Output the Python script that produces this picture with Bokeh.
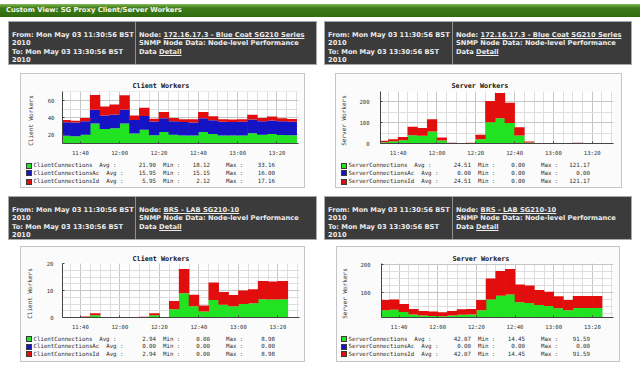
import pandas as pd
from bokeh.plotting import figure
from bokeh.models import (Div, Spacer, FixedTicker, DatetimeTickFormatter,
                          Range1d, ColumnDataSource)
from bokeh.layouts import column, row
from bokeh.embed import file_html
from bokeh.resources import INLINE

# ---------------- data ----------------
DAY = "2010-05-03"
SLOTS = ["11:30", "11:35", "11:40", "11:45", "11:50", "11:55", "12:00", "12:05",
         "12:10", "12:15", "12:20", "12:25", "12:30", "12:35", "12:40", "12:45",
         "12:50", "12:55", "13:00", "13:05", "13:10", "13:15", "13:20", "13:25"]
X_START = "11:30:56"
X_END = "13:30:56"
X_TICKS = ["11:40", "12:00", "12:20", "12:40", "13:00", "13:20"]
X_MINOR = ["11:35", "11:40", "11:45", "11:50", "11:55", "12:00", "12:05", "12:10",
           "12:15", "12:20", "12:25", "12:30", "12:35", "12:40", "12:45", "12:50",
           "12:55", "13:00", "13:05", "13:10", "13:15", "13:20", "13:25", "13:30"]
NAN = float("nan")

CLIENT_NAMES = ["ClientConnections", "ClientConnectionsAc", "ClientConnectionsId"]
SERVER_NAMES = ["ServerConnections", "ServerConnectionsAc", "ServerConnectionsId"]

# top-left: Blue Coat SG210 Series, client workers
TL_CONN = [18.6, 18.12, 19.8, 33.16, 26.5, 27.6, 33.0, 21.2, 25.8, 19.3, 23.2, 19.8,
           19.0, 19.0, 23.2, 20.8, 19.0, 18.9, 19.0, 21.6, 19.8, 20.6, 19.6, 19.2]
TL_AC = [16.0, 16.0, 16.0, 16.0, 16.0, 16.0, 16.0, 16.0, 15.9, 16.0, 16.0, 16.0,
         15.9, 15.15, 16.0, 16.0, 16.0, 16.0, 16.0, 16.0, 15.9, 16.0, 16.0, 16.0]
TL_ID = [2.6, 2.12, 3.8, 17.16, 10.5, 11.6, 17.0, 5.2, 9.9, 3.3, 7.2, 3.8,
         3.1, 3.85, 7.2, 4.8, 3.0, 2.9, 3.0, 5.6, 3.9, 4.6, 3.6, 3.2]
TL_STATS = [("21.90", "18.12", "33.16"), ("15.95", "15.15", "16.00"), ("5.95", "2.12", "17.16")]

# top-right: Blue Coat SG210 Series, server workers
TR_CONN = [6.5, 10.5, 15.5, 40.0, 37.0, 58.0, 14.5, 2.0, 1.5, 2.0, 21.0, 102.0,
           121.17, 98.0, 39.0, 5.0, 0.0, 0.5, 1.5, 0.5, 1.8, 0.4, 0.0, 0.0]
TR_AC = [0.0, 0.0, 0.0, 0.0, 0.0, 0.0, 0.0, 0.0, 0.0, 0.0, 0.0, 0.0,
         0.0, 0.0, 0.0, 0.0, 0.0, 0.0, 0.0, 0.0, 0.0, 0.0, 0.0, 0.0]
TR_ID = [6.5, 10.5, 15.5, 40.0, 37.0, 58.0, 14.5, 2.0, 1.5, 2.0, 21.0, 102.0,
         121.17, 98.0, 39.0, 5.0, 0.0, 0.5, 1.5, 0.5, 1.8, 0.4, 0.0, 0.0]
TR_STATS = [("24.51", "0.00", "121.17"), ("0.00", "0.00", "0.00"), ("24.51", "0.00", "121.17")]

# bottom-left: BRS - LAB SG210-10, client workers
BL_CONN = [0.0, 0.0, 0.2, 0.8, 0.0, 0.0, 0.0, 0.0, 0.15, 0.8, 0.0, 3.05,
           8.98, 4.2, 2.2, 6.5, 4.7, 4.15, 5.0, 5.25, 6.75, 6.65, 6.75, NAN]
BL_AC = [0.0, 0.0, 0.0, 0.0, 0.0, 0.0, 0.0, 0.0, 0.0, 0.0, 0.0, 0.0,
         0.0, 0.0, 0.0, 0.0, 0.0, 0.0, 0.0, 0.0, 0.0, 0.0, 0.0, NAN]
BL_ID = [0.0, 0.0, 0.2, 0.8, 0.0, 0.0, 0.0, 0.0, 0.15, 0.8, 0.0, 3.05,
         8.98, 4.2, 2.2, 6.5, 4.7, 4.15, 5.0, 5.25, 6.75, 6.65, 6.75, NAN]
BL_STATS = [("2.94", "0.00", "8.98"), ("0.00", "0.00", "0.00"), ("2.94", "0.00", "8.98")]

# bottom-right: BRS - LAB SG210-10, server workers
BR_CONN = [36.0, 37.0, 29.0, 20.0, 16.5, 15.5, 14.45, 16.5, 19.5, 20.0, 36.0, 74.5,
           88.0, 91.59, 64.0, 62.0, 54.0, 51.0, 43.0, 36.0, 43.5, 43.5, 43.5, NAN]
BR_AC = [0.0, 0.0, 0.0, 0.0, 0.0, 0.0, 0.0, 0.0, 0.0, 0.0, 0.0, 0.0,
         0.0, 0.0, 0.0, 0.0, 0.0, 0.0, 0.0, 0.0, 0.0, 0.0, 0.0, NAN]
BR_ID = [36.0, 37.0, 29.0, 20.0, 16.5, 15.5, 14.45, 16.5, 19.5, 20.0, 36.0, 74.5,
         88.0, 91.59, 64.0, 62.0, 54.0, 51.0, 43.0, 36.0, 43.5, 43.5, 43.5, NAN]
BR_STATS = [("42.07", "14.45", "91.59"), ("0.00", "0.00", "0.00"), ("42.07", "14.45", "91.59")]

PAGE_TITLE = "Custom View: SG Proxy Client/Server Workers"
FROM_LINE = "From: Mon May 03 11:30:56 BST"
TO_LINE = "To: Mon May 03 13:30:56 BST"
YEAR = "2010"
NODE_TOP = "172.16.17.3 - Blue Coat SG210 Series"
NODE_BOTTOM = "BRS - LAB SG210-10"

# ---------------- style ----------------
MONO = "DejaVu Sans Mono"
SANS = "DejaVu Sans"
GREEN, BLUE, RED = "#22e322", "#1414c4", "#e20e0e"
AXIS_C = "#454545"
TEXT_C = "#2a2a2a"
BOX_BG = "#fbfbfb"
YLAB_W = 20


def ms(t):
    return pd.Timestamp(f"{DAY} {t}").value // 10**6


def chart(title, conn, ac, idd, y0, y1, yticks, yminor,
          width, left, right, top, fh, title_off, title_stand, ytick_stand):
    bottom = 9
    height = top + fh + bottom
    p = figure(width=width, height=height, x_axis_type="datetime",
               x_range=Range1d(ms(X_START), ms(X_END)), y_range=Range1d(y0, y1),
               output_backend="svg", toolbar_location=None,
               min_border_left=left, min_border_right=right,
               min_border_top=top, min_border_bottom=bottom,
               background_fill_color="white", border_fill_color=BOX_BG,
               outline_line_color=None)
    p.title.text = title
    p.title.align = "left"
    p.title.offset = title_off
    p.title.standoff = title_stand
    p.title.text_font = MONO
    p.title.text_font_size = "6.75px"
    p.title.text_font_style = "bold"
    p.title.text_color = "#111111"

    src = ColumnDataSource(dict(mid=[ms(s) + 150000 for s in SLOTS],
                                conn=conn, ac=ac, idd=idd))
    p.vbar_stack(["conn", "ac", "idd"], x="mid", width=318000, source=src,
                 fill_color=[GREEN, BLUE, RED], line_color=None)

    p.xaxis.ticker = FixedTicker(ticks=[ms(t) for t in X_TICKS],
                                 minor_ticks=[ms(t) for t in X_MINOR])
    p.xaxis.formatter = DatetimeTickFormatter(minutes="%H:%M", hourmin="%H:%M",
                                              hours="%H:%M", minsec="%H:%M")
    p.yaxis.ticker = FixedTicker(ticks=yticks, minor_ticks=yminor)
    for ax in (p.xaxis[0], p.yaxis[0]):
        ax.axis_line_color = AXIS_C
        ax.major_tick_in = 2
        ax.major_tick_out = 0
        ax.major_tick_line_color = AXIS_C
        ax.minor_tick_line_color = None
        ax.major_label_text_font = MONO
        ax.major_label_text_font_size = "5.6px"
        ax.major_label_text_color = "#333333"
    p.xaxis.major_label_standoff = 2
    p.yaxis.major_label_standoff = ytick_stand
    for g in (p.xgrid[0], p.ygrid[0]):
        g.grid_line_color = "#c6c6c6"
        g.minor_grid_line_color = "#dedede"
    return p


def ylabel(text, height, cx, cy):
    bw, bh = 100, 7
    html = (f'<div style="position:relative;width:{YLAB_W}px;height:{height}px;'
            f'background:{BOX_BG};overflow:visible">'
            f'<div style="position:absolute;left:{cx - bw / 2:.1f}px;top:{cy - bh / 2:.1f}px;'
            f'width:{bw}px;height:{bh}px;line-height:{bh}px;text-align:center;'
            f'transform-origin:{bw / 2}px {bh / 2}px;transform:rotate(-90deg);'
            f'white-space:nowrap;font-family:\'{MONO}\';font-size:6px;color:#333333">'
            f'{text}</div></div>')
    return Div(text=html, width=YLAB_W, height=height, margin=(0, 0, 0, 0))


def legend(names, stats, width, height, fl, rows):
    cw = 3.46
    parts = [f'<div style="position:relative;width:{width}px;height:{height}px;'
             f'font-family:\'{MONO}\';font-size:5.75px;line-height:7px;color:{TEXT_C};'
             f'white-space:nowrap;background:{BOX_BG}">']
    for name, (avg, mn, mx), col, cy in zip(names, stats, [GREEN, BLUE, RED], rows):
        top = cy - 3.5
        parts.append(f'<span style="position:absolute;left:{fl - 36}px;top:{cy - 3}px;'
                     f'width:6px;height:6px;box-sizing:border-box;background:{col};'
                     f'border:1px solid #3a3a3a"></span>')

        def lft(x, t):
            return f'<span style="position:absolute;left:{fl + x:.1f}px;top:{top}px">{t}</span>'

        def rgt(x, t):
            return f'<span style="position:absolute;right:{width - fl - x:.1f}px;top:{top}px">{t}</span>'

        parts += [lft(-28.5, name), lft(-28.5 + (len(name) + 2) * cw, "Avg :"),
                  rgt(94, avg), lft(101, "Min :"), rgt(148, mn),
                  lft(164, "Max :"), rgt(213, mx)]
    parts.append('</div>')
    return Div(text="".join(parts), width=width, height=height, margin=(0, 0, 0, 0))


def box(title, fig, names, stats, frame_left, rows, ylab_x):
    height = fig.height
    width = fig.width + YLAB_W
    top = fig.min_border_top
    fh = height - top - 9
    lab = ylabel(title, height, ylab_x, top + fh / 2)
    leg = legend(names, stats, width, 29, frame_left, rows)
    return column(row(lab, fig), leg, styles={"border": "1px solid #c5c5c5",
                                              "background-color": BOX_BG})


def header(node, w, split):
    html = (
        f'<div style="width:{w}px;height:44px;box-sizing:border-box;background:#3b3b3b;'
        f'border:1px solid #a9a9a9;display:flex;font-family:\'{SANS}\';font-weight:bold;'
        f'font-size:6.7px;line-height:8.4px;color:#ececec;white-space:nowrap;overflow:hidden">'
        f'<div style="width:{split}px;flex:none;border-right:1px solid #8f8f8f;'
        f'padding:9px 0 0 3px;box-sizing:border-box">'
        f'{FROM_LINE}<br>{YEAR}<br>{TO_LINE}<br>{YEAR}</div>'
        f'<div style="padding:9px 0 0 3px">Node: <u>{node}</u><br>'
        f'SNMP Node Data: Node-level Performance<br>Data <u>Detail</u></div></div>'
    )
    return Div(text=html, width=w, height=44, margin=(0, 0, 0, 0))


def sp(w, h):
    return Spacer(width=w, height=h, margin=(0, 0, 0, 0))


title_div = Div(
    text=(f'<div style="width:640px;height:13px;box-sizing:border-box;'
          f'background:linear-gradient(to bottom,#86b85a 0px,#5d9830 2px,#3e7b18 4px,#2f6b0d 13px);'
          f'color:#f6f6ea;font-family:\'{SANS}\';font-weight:bold;font-size:6.8px;'
          f'line-height:13px;padding-left:6px;white-space:nowrap">{PAGE_TITLE}</div>'),
    width=640, height=13, margin=(0, 0, 0, 0))

ROWS_TOP = [7.5, 15, 23.5]
ROWS_BOT = [7.3, 14.7, 22]

# figure widths exclude the 20px y-label strip; frame_left counts from box content edge
p_tl = chart("Client Workers", TL_CONN, TL_AC, TL_ID, 9.6, 70.5, [20, 40, 60], [10, 30, 50, 70],
             263, 21, 6, 17, 58, 70, 3, 4)
p_tr = chart("Server Workers", TR_CONN, TR_AC, TR_ID, 0, 250, [0, 100, 200], [50, 150, 250],
             265, 21, 8, 17, 58, 71, 3, 7)
p_bl = chart("Client Workers", BL_CONN, BL_AC, BL_ID, 0, 20, [0, 10, 20],
             [2.5, 5, 7.5, 12.5, 15, 17.5], 263, 21, 5, 16, 60, 70, 2, 5)
p_br = chart("Server Workers", BR_CONN, BR_AC, BR_ID, 9.7, 203, [100, 200],
             [25, 50, 75, 125, 150, 175], 262, 20, 6, 16, 60, 71, 2, 7)

b_tl = box("Client Workers", p_tl, CLIENT_NAMES, TL_STATS, 41, ROWS_TOP, 9)
b_tr = box("Server Workers", p_tr, SERVER_NAMES, TR_STATS, 41, ROWS_TOP, 7)
b_bl = box("Client Workers", p_bl, CLIENT_NAMES, BL_STATS, 41, ROWS_BOT, 8)
b_br = box("Server Workers", p_br, SERVER_NAMES, BR_STATS, 40, ROWS_BOT, 6.5)

root = column(
    title_div,
    sp(640, 8),
    row(sp(8, 44), header(NODE_TOP, 309, 127), sp(7, 44), header(NODE_TOP, 308, 128)),
    sp(640, 8),
    row(sp(20, 115), b_tl, sp(30, 115), b_tr),
    sp(640, 8),
    row(sp(8, 44), header(NODE_BOTTOM, 309, 127), sp(7, 44), header(NODE_BOTTOM, 308, 128)),
    sp(640, 6),
    row(sp(20, 116), b_bl, sp(31, 116), b_br),
)

with open("out.html", "w") as f:
    f.write(file_html(root, INLINE, title="SG Proxy Client/Server Workers"))
